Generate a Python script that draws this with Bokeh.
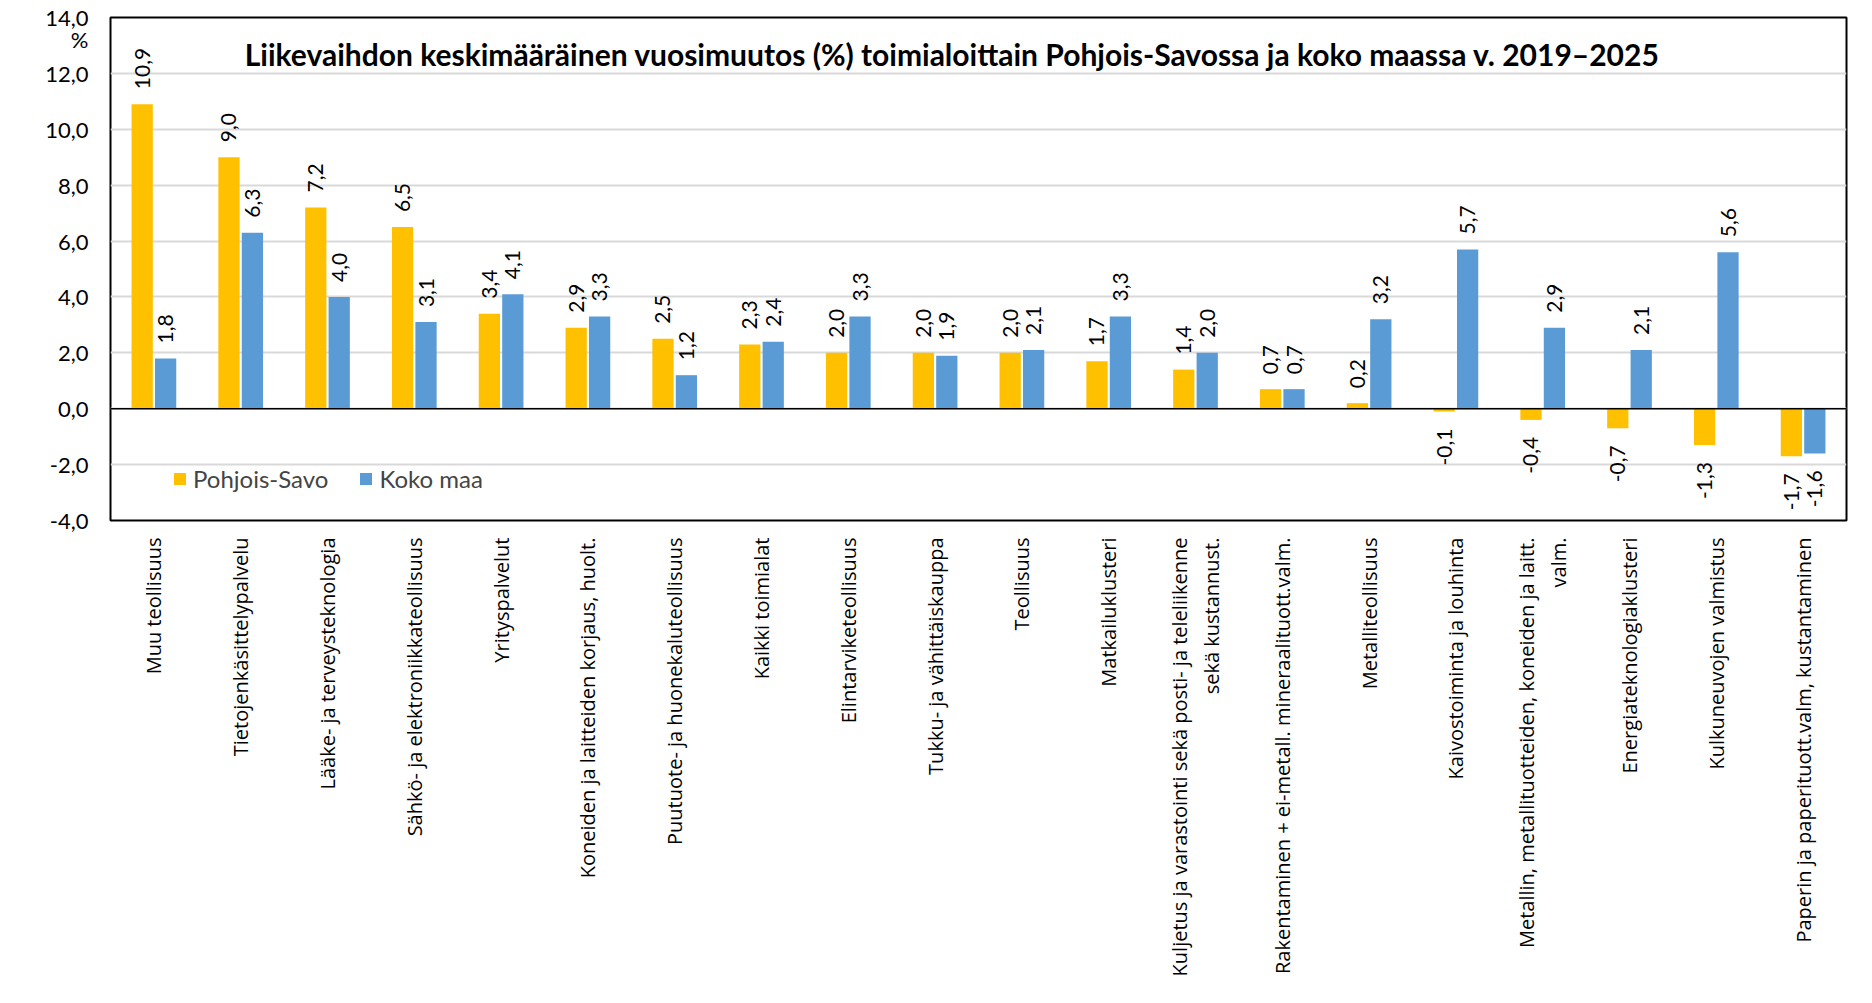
import math
from bokeh.plotting import figure
from bokeh.models import (ColumnDataSource, FactorRange, Range1d, FixedTicker, Span,
                          Label, Legend, LegendItem)
from bokeh.transform import dodge
from bokeh.embed import file_html
from bokeh.resources import INLINE
from bokeh.core.properties import value

# ---------------- data ----------------
categories = [
    "Muu teollisuus",
    "Tietojenkäsittelypalvelu",
    "Lääke- ja terveysteknologia",
    "Sähkö- ja elektroniikkateollisuus",
    "Yrityspalvelut",
    "Koneiden ja laitteiden korjaus, huolt.",
    "Puutuote- ja huonekaluteollisuus",
    "Kaikki toimialat",
    "Elintarviketeollisuus",
    "Tukku- ja vähittäiskauppa",
    "Teollisuus",
    "Matkailuklusteri",
    "Kuljetus ja varastointi sekä posti- ja teleliikenne\nsekä kustannust.",
    "Rakentaminen + ei-metall. mineraalituott.valm.",
    "Metalliteollisuus",
    "Kaivostoiminta ja louhinta",
    "Metallin, metallituotteiden, koneiden ja laitt.\nvalm.",
    "Energiateknologiaklusteri",
    "Kulkuneuvojen valmistus",
    "Paperin ja paperituott.valm, kustantaminen",
]
pohjois_savo = [10.9, 9.0, 7.2, 6.5, 3.4, 2.9, 2.5, 2.3, 2.0, 2.0, 2.0, 1.7, 1.4, 0.7, 0.2,
                -0.1, -0.4, -0.7, -1.3, -1.7]
koko_maa = [1.8, 6.3, 4.0, 3.1, 4.1, 3.3, 1.2, 2.4, 3.3, 1.9, 2.1, 3.3, 2.0, 0.7, 3.2,
            5.7, 2.9, 2.1, 5.6, -1.6]
series_names = ["Pohjois-Savo", "Koko maa"]
y_ticks = [-4, -2, 0, 2, 4, 6, 8, 10, 12, 14]
y_tick_labels = ["-4,0", "-2,0", "0,0", "2,0", "4,0", "6,0", "8,0", "10,0", "12,0", "14,0"]
title_text = ("Liikevaihdon keskimääräinen vuosimuutos (%) toimialoittain "
              "Pohjois-Savossa ja koko maassa v. 2019–2025")
unit_text = "%"
unit_pos = 13.23   # where the unit sign sits on the value axis, just under 14,0

# ---------------- style ----------------
YELLOW = "#FFC000"
BLUE = "#5B9BD5"
NUM_FONT = "Lato"
CAT_FONT = "Open Sans"
OFF = 0.135
BAR_W = 0.245


def fmt(v):
    return f"{v:.1f}".replace(".", ",")


src = ColumnDataSource(dict(cat=categories, ps=pohjois_savo, km=koko_maa))

W, H = 1870, 1000
p = figure(width=W, height=H,
           x_range=FactorRange(*categories, range_padding=0),
           y_range=Range1d(-4, 14),
           output_backend="svg", toolbar_location=None,
           min_border_left=110, min_border_right=W - 1846,
           min_border_top=17, min_border_bottom=H - 520)
p.styles = {"outline": "2px solid #d9d9d9", "outline-offset": "-3px"}

p.outline_line_color = "black"
p.outline_line_width = 2
p.background_fill_color = "white"
p.border_fill_color = "white"

# grid
p.xgrid.grid_line_color = None
p.ygrid.grid_line_color = "#d9d9d9"
p.ygrid.grid_line_width = 2
p.ygrid.ticker = FixedTicker(ticks=y_ticks)

# value axis (with the unit sign as an extra label under the top tick)
p.yaxis.ticker = FixedTicker(ticks=y_ticks + [unit_pos])
overrides = {t: l for t, l in zip(y_ticks, y_tick_labels)}
overrides[unit_pos] = unit_text
p.yaxis.major_label_overrides = overrides
p.yaxis.axis_line_color = None
p.yaxis.major_tick_line_color = None
p.yaxis.minor_tick_line_color = None
p.yaxis.major_tick_out = 0
p.yaxis.major_tick_in = 0
p.yaxis.major_label_standoff = 22
p.yaxis.major_label_text_font = NUM_FONT
p.yaxis.major_label_text_font_size = "22px"
p.yaxis.major_label_text_color = "black"

# category axis
p.xaxis.axis_line_color = None
p.xaxis.major_tick_line_color = None
p.xaxis.major_tick_out = 0
p.xaxis.major_tick_in = 0
p.xaxis.major_label_standoff = 17
p.xaxis.major_label_orientation = math.pi / 2
p.xaxis.major_label_text_font = CAT_FONT
p.xaxis.major_label_text_font_size = "20px"
p.xaxis.major_label_text_color = "black"

# bars
r1 = p.vbar(x=dodge("cat", -OFF, range=p.x_range), top="ps", bottom=0, width=BAR_W,
            source=src, fill_color=YELLOW, line_color=None)
r2 = p.vbar(x=dodge("cat", OFF, range=p.x_range), top="km", bottom=0, width=BAR_W,
            source=src, fill_color=BLUE, line_color=None)

# zero line
p.add_layout(Span(location=0, dimension="width", line_color="black", line_width=1.5))

# data labels
for vals, off in ((pohjois_savo, -OFF), (koko_maa, OFF)):
    pos = [(c, v, fmt(v)) for c, v in zip(categories, vals) if v >= 0]
    neg = [(c, v, fmt(v)) for c, v in zip(categories, vals) if v < 0]
    for subset, align, yoff in ((pos, "left", -15), (neg, "right", 17)):
        if not subset:
            continue
        s = ColumnDataSource(dict(cat=[a[0] for a in subset],
                                  v=[a[1] for a in subset],
                                  t=[a[2] for a in subset]))
        p.text(x=dodge("cat", off, range=p.x_range), y="v", text="t", source=s,
               angle=math.pi / 2, text_align=align, text_baseline="middle",
               y_offset=yoff, text_font=value(NUM_FONT), text_font_size="21px",
               text_color="black")

# legend
legend = Legend(items=[LegendItem(label=series_names[0], renderers=[r1]),
                       LegendItem(label=series_names[1], renderers=[r2])],
                orientation="horizontal", location=(62, 27))
legend.background_fill_alpha = 0
legend.border_line_alpha = 0
legend.padding = 0
legend.margin = 0
legend.spacing = 30
legend.glyph_width = 15
legend.glyph_height = 15
legend.label_standoff = 6
legend.label_text_font = NUM_FONT
legend.label_text_font_size = "24px"
legend.label_height = 24
p.add_layout(legend)

# title inside plot
p.add_layout(Label(x=842, y=467, x_units="screen", y_units="screen", text=title_text,
                   text_align="center", text_baseline="alphabetic",
                   text_font=NUM_FONT, text_font_size="30px", text_font_style="bold",
                   text_color="black"))

open("out.html", "w").write(file_html(p, INLINE))
